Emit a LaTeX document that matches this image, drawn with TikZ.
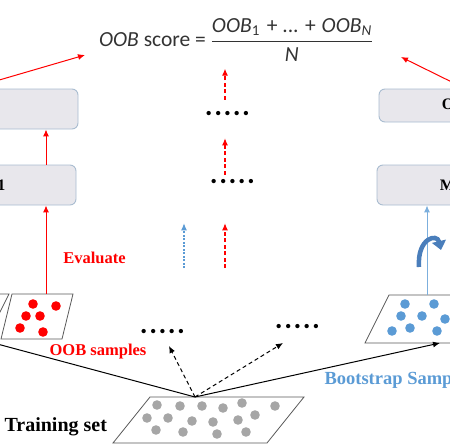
\documentclass[tikz,border=0pt]{standalone}
\usepackage{amsmath}
\usepackage{fontspec}
\setmainfont{Liberation Serif}
\newfontfamily\scorefont{Carlito}
\usepackage{tikz}
\usetikzlibrary{positioning, arrows.meta}

\definecolor{boxfill}{HTML}{E8E7EC}
\definecolor{boxline}{HTML}{A9BCD0}
\definecolor{bsblue}{HTML}{5B9BD5}
\definecolor{turnblue}{HTML}{4A7EBB}
\definecolor{setgray}{HTML}{A6A6A6}
\definecolor{formgray}{HTML}{333333}

\newcommand{\dotrow}{\textbullet\kern3pt\textbullet\kern3pt\textbullet\kern3pt\textbullet\kern3pt\textbullet}

\begin{document}
\begin{tikzpicture}[x=1pt,y=-1pt,
  modelbox/.style={draw=boxline, fill=boxfill, rounded corners=6pt, line width=0.9pt, inner sep=0pt, minimum height=40pt, font=\bfseries\fontsize{16}{18}\selectfont},
  redarrow/.style={draw=red, line width=1pt, -{Latex[length=7pt,width=6pt]}},
  reddash/.style={draw=red, line width=1.2pt, dash pattern=on 4pt off 2.5pt, -{Latex[length=7pt,width=6pt]}},
  bluedot/.style={draw=bsblue, line width=1.2pt, dash pattern=on 2pt off 1.5pt, -{Latex[length=7pt,width=6pt]}},
  blackarrow/.style={draw=black, line width=1pt, -{Latex[length=7pt,width=6pt]}},
  blackdash/.style={draw=black, line width=1pt, dash pattern=on 4pt off 3pt, -{Latex[length=7pt,width=6pt]}},
  setedge/.style={draw=black!65, line width=0.8pt},
  dotsnode/.style={inner sep=0pt, font=\fontsize{18}{18}\selectfont}]

\useasboundingbox (0,0) rectangle (450,447);
\clip (0,0) rectangle (450,447);

\node (score) at (236,40) {\scorefont\fontsize{21.5}{26}\selectfont\color{formgray}\textit{OOB} score = $\genfrac{}{}{1.2pt}{0}{\hbox{\textit{OOB}\textsubscript{1}\kern2pt{} + ... + \kern1pt\textit{OOB}\textsubscript{\textit{N}}}}{\hbox{\textit{N}}}$};

\node[modelbox, minimum width=216pt] (ltop) at (-30,109) {};
\node[modelbox, minimum width=172pt, minimum height=33pt] (rtop) at (465,105.5) {OOB$_{N}$};
\node[modelbox, minimum width=197pt] (lmod) at (-22.5,185) {Model 1};
\node[modelbox, minimum width=185pt] (rmod) at (469.5,185) {Model N};

\node[dotsnode] (tdots) at (227.5,115) {\dotrow};
\node[dotsnode] (mdots) at (232.5,183) {\dotrow};
\node[dotsnode] (ldots) at (162.5,333) {\dotrow};
\node[dotsnode] (rdots) at (297.5,328) {\dotrow};

\node[text=red, font=\bfseries\fontsize{16.5}{18}\selectfont] (evaluate) at (94.5,258) {Evaluate};
\node[text=red, font=\bfseries\fontsize{16.5}{18}\selectfont] (oobtext) at (98,352) {OOB samples};
\node[text=bsblue, font=\bfseries\fontsize{18.5}{20}\selectfont, anchor=west] (bstext) at (321,380) {Bootstrap Samples};
\node[font=\bfseries\fontsize{20}{22}\selectfont, anchor=west] (trainset) at (1,427) {Training set};

% sample sets
\draw[setedge] (-52,294) -- (9,294) -- (-15,342) -- (-76,342) -- cycle;
\draw[setedge] (12,294) -- (73,294) -- (62,339) -- (1,339) -- cycle;
\draw[setedge] (389,295) -- (489,295) -- (465,343) -- (365,343) -- cycle;
\draw[setedge] (150,397) -- (304,397) -- (267,443) -- (113,443) -- cycle;

\foreach \p in {(33,304),(56,306),(26,316),(40,316),(20,328),(43,332)}
  \fill[red] \p circle (4.8);
\foreach \p in {(405,304),(434,304),(401,316),(422,316),(445,319),(392,331),(410,328),(437,331)}
  \fill[bsblue] \p circle (4.8);
\foreach \p in {(157,405),(180,406),(202,406),(223,408),(242,403),(275,406),
                (147,418),(168,418),(192,421),(213,422),(238,420),(255,415),
                (156,430),(183,432),(217,434),(246,432)}
  \fill[setgray] \p circle (4.8);

\coordinate (apex) at (195,397);
\coordinate (oobtop) at (46,294);
\coordinate (bstop) at (427,295);
\coordinate (farend) at (-40,334);
\coordinate (bsend) at (440,343);
\coordinate (ldashend) at (169,346);
\coordinate (rdashend) at (283,343);
\coordinate (lend) at (85,55);
\coordinate (rend) at (401,57);
\coordinate (redcol) at (225,268);
\coordinate (bluecol) at (184,268);

\draw[blackarrow] (apex) -- (farend);
\draw[blackarrow] (apex) -- (bsend);
\draw[blackdash] (apex) -- (ldashend);
\draw[blackdash] (apex) -- (rdashend);

\draw[redarrow] (oobtop) -- (oobtop |- lmod.south);
\draw[redarrow] (lmod.north -| oobtop) -- (ltop.south -| oobtop);
\draw[redarrow] (ltop.north) -- (lend);
\draw[redarrow] (rtop.north) -- (rend);
\draw[draw=bsblue!80, line width=1pt, -{Latex[length=7pt,width=6pt]}] (bstop) -- (bstop |- rmod.south);

\draw[reddash, shorten <=11pt, shorten >=4pt] (tdots.north -| redcol) -- (score.south -| redcol);
\draw[reddash, shorten <=4pt, shorten >=19pt] (mdots.north -| redcol) -- (tdots.south -| redcol);
\draw[reddash, shorten >=36pt] (redcol) -- (mdots.south -| redcol);
\draw[bluedot, shorten >=36pt] (bluecol) -- (mdots.south -| bluecol);

\draw[turnblue, line width=4.5pt, -{Triangle[length=9pt,width=14pt]}] (419,267) .. controls (417,238) and (437,233) .. (441,250);

\end{tikzpicture}
\end{document}
